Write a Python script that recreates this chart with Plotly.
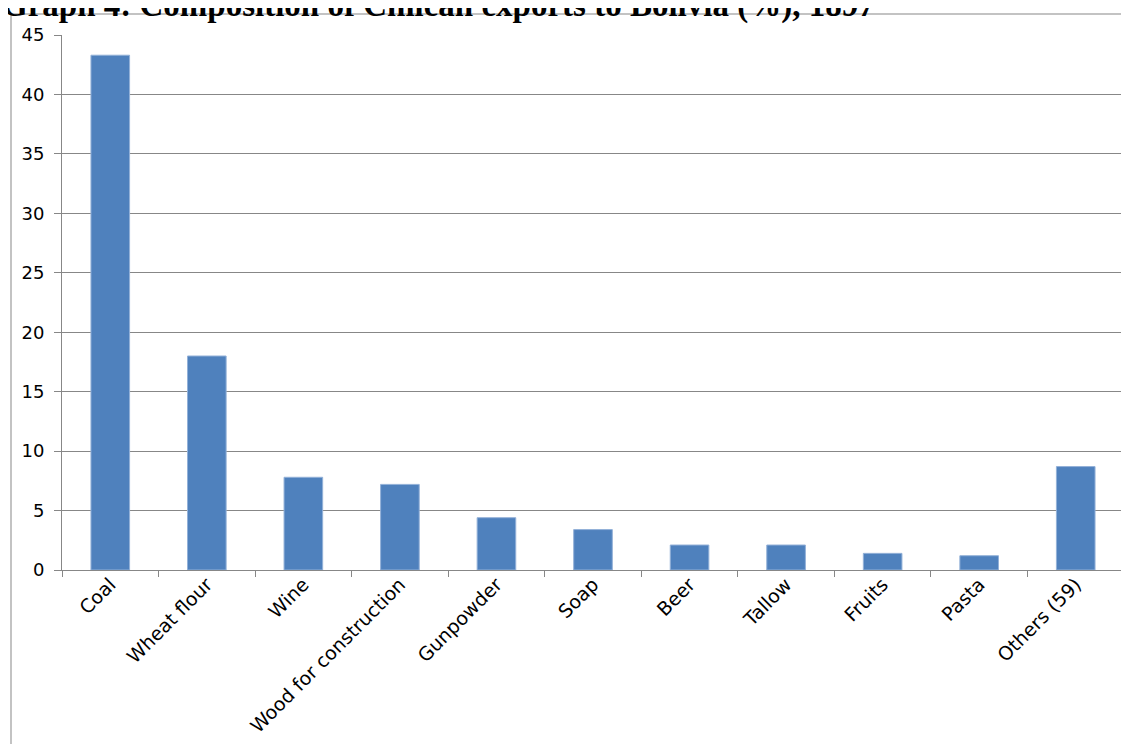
import plotly.graph_objects as go

categories = ["Coal", "Wheat flour", "Wine", "Wood for construction", "Gunpowder",
              "Soap", "Beer", "Tallow", "Fruits", "Pasta", "Others (59)"]
shares = [43.3, 18.0, 7.8, 7.2, 4.4, 3.4, 2.1, 2.1, 1.4, 1.2, 8.7]
y_ticks = [0, 5, 10, 15, 20, 25, 30, 35, 40, 45]
title_text = "Graph 4: Composition of Chilean exports to Bolivia (%), 1897"

# page body has an 8px offset
OFF = 8
W, H = 1129, 744
L, R, T, B = 54, 13, 27, 182
pw, ph = W - L - R, H - T - B

def px_to_paper_x(px):
    return (px - OFF - L) / pw

def px_to_paper_y(py):
    return (OFF + H - B - py) / ph

grid_col = "#878787"
ytick_font = dict(family="DejaVu Sans", size=18, color="#000000")
xtick_font = dict(family="DejaVu Sans", size=19, color="#000000")

fig = go.Figure(go.Bar(
    x=categories, y=shares,
    marker=dict(color="#4F81BD", line=dict(color="#93B1D8", width=1)),
))

fig.update_layout(
    width=W, height=H,
    margin=dict(l=L, r=R, t=T, b=B, autoexpand=False),
    paper_bgcolor="white", plot_bgcolor="white",
    bargap=0.6, showlegend=False,
    xaxis=dict(
        tickangle=-45, tickfont=xtick_font, showgrid=False, automargin=False,
        showline=True, linecolor=grid_col, linewidth=1,
        ticks="outside", tickson="boundaries", ticklen=6, tickcolor=grid_col,
        ticklabelstandoff=-5, fixedrange=True,
    ),
    yaxis=dict(
        range=[0, 45], tickvals=y_ticks, tickfont=ytick_font, automargin=False,
        showgrid=True, gridcolor=grid_col, gridwidth=1,
        showline=True, linecolor=grid_col, linewidth=1,
        ticks="outside", ticklen=7, tickcolor=grid_col, ticklabelstandoff=6,
        zeroline=False, fixedrange=True,
    ),
    shapes=[dict(
        type="rect", xref="paper", yref="paper",
        x0=px_to_paper_x(11), x1=px_to_paper_x(1200),
        y0=px_to_paper_y(800), y1=px_to_paper_y(14),
        line=dict(color=grid_col, width=1), fillcolor="rgba(0,0,0,0)",
        layer="below",
    )],
    annotations=[dict(
        text="<b>" + title_text + "</b>", xref="paper", yref="paper",
        x=px_to_paper_x(0), y=px_to_paper_y(26), xanchor="left", yanchor="bottom",
        showarrow=False, font=dict(family="Liberation Serif", size=33, color="#000000"),
    )],
)

fig.write_html("out.html")
